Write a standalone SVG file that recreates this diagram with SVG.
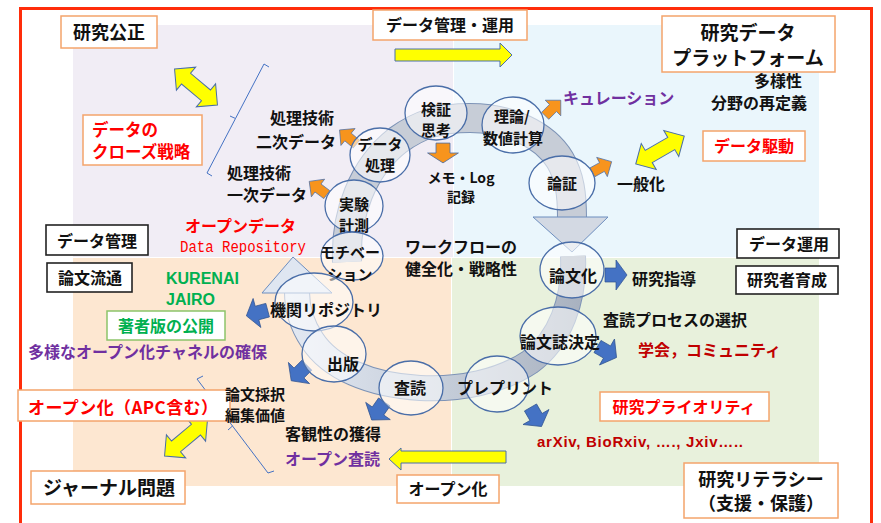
<svg xmlns="http://www.w3.org/2000/svg" width="881" height="523" viewBox="0 0 881 523">
<defs>
<style>
.t{font-family:"Noto Sans CJK JP","Noto Sans",sans-serif;font-weight:bold;fill:#111}
.c{text-anchor:middle}
.red{fill:#ff0000}
.dred{fill:#c00000}
.pur{fill:#7030a0}
.grn{fill:#00b050}
.box{fill:#fff;stroke:#f4a46b;stroke-width:1.5}
.kbox{fill:#fff;stroke:#222;stroke-width:1.6}
.gbox{fill:#fff;stroke:#8cc46a;stroke-width:1.5}
.el{fill:#fff;fill-opacity:0.55;stroke:#4a6ea8;stroke-width:1.3}
.ya{fill:#ffff00;stroke:#4a6ea8;stroke-width:1}
.oa{fill:#f7941d;stroke:#4a6ea8;stroke-width:0.7}
.ba{fill:#4472c4;stroke:#2f528f;stroke-width:0.7}
.br{fill:none;stroke:#4472c4;stroke-width:1}
</style>
<path id="dbl" d="M-28,0 L-13,-15 L-13,-7 L13,-7 L13,-15 L28,0 L13,15 L13,7 L-13,7 L-13,15 Z"/>
<path id="oarr" d="M-11,-5 L0,-5 L0,-11 L11,0 L0,11 L0,5 L-11,5 Z"/>
<path id="barr" d="M-11,-7 L0,-7 L0,-15 L11,0 L0,15 L0,7 L-11,7 Z"/>
<linearGradient id="gB" gradientUnits="userSpaceOnUse" x1="580" y1="0" x2="290" y2="0">
<stop offset="0" stop-color="#a9b2c0"/><stop offset="0.45" stop-color="#c4ccd8"/><stop offset="1" stop-color="#e2e8f2"/>
</linearGradient>
</defs>

<!-- backgrounds -->
<g id="background">
<rect x="0" y="0" width="881" height="523" fill="#fff"/>
<rect x="73" y="25" width="380" height="232" fill="#f1edf5"/>
<rect x="454" y="25" width="365" height="232" fill="#eaf6fc"/>
<rect x="73" y="258" width="378" height="228" fill="#fde7d1"/>
<rect x="452" y="258" width="367" height="228" fill="#e8f1dc"/>
<rect x="20.5" y="8.5" width="851" height="530" fill="none" stroke="#ff2d0a" stroke-width="3"/>
</g>

<!-- connectors: spiral bands and arrows -->
<g id="connectors">
<g id="bandA">
<path d="M347,262 C345,215 362,168 398,140 C420,124 440,118 470,118 C510,118 545,135 560,160 C570,177 572,195 572,218" fill="none" stroke="#7d93b6" stroke-width="30"/>
<path d="M347,262 C345,215 362,168 398,140 C420,124 440,118 470,118 C510,118 545,135 560,160 C570,177 572,195 572,218" fill="none" stroke="#c7cdd7" stroke-width="28"/>
<polygon points="533,217 608,217 572,252" fill="#d3d9e3" stroke="#6d8ebf" stroke-width="1"/>
</g>
<g id="bandB">
<path d="M573,256 C575,300 560,340 530,362 C500,382 460,390 420,388 C370,385 330,368 312,340 C302,325 297,310 297,292" fill="none" stroke="#7d93b6" stroke-width="26"/>
<path d="M573,256 C575,300 560,340 530,362 C500,382 460,390 420,388 C370,385 330,368 312,340 C302,325 297,310 297,292" fill="none" stroke="url(#gB)" stroke-width="24"/>
<polygon points="262,293 332,293 293,257" fill="#dfe6f1" stroke="#6d8ebf" stroke-width="1"/>
</g>

<!-- orange arrows -->
<use href="#oarr" class="oa" transform="translate(348,137) rotate(-140)"/>
<use href="#oarr" class="oa" transform="translate(318,188) rotate(-143)"/>
<use href="#oarr" class="oa" transform="translate(443,153) rotate(90) scale(0.9,1.4)"/>
<use href="#oarr" class="oa" transform="translate(553,108) rotate(-45)"/>
<use href="#oarr" class="oa" transform="translate(602,167) rotate(-29)"/>

<!-- blue arrows -->
<use href="#barr" class="ba" transform="translate(616,275)"/>
<use href="#barr" class="ba" transform="translate(607,352) rotate(30)"/>
<use href="#barr" class="ba" transform="translate(536,417) rotate(60)"/>
<use href="#barr" class="ba" transform="translate(378,411) rotate(125)"/>
<use href="#barr" class="ba" transform="translate(299,373) rotate(135)"/>
<use href="#barr" class="ba" transform="translate(257,313) rotate(165)"/>

<!-- yellow arrows -->
<path d="M395,49 H500 V43 L512,55 L500,67 V61 H395 Z" class="ya"/>
<path d="M506,451 H401 V448 L389,459 L401,470 V463 H506 Z" class="ya"/>
<use href="#dbl" class="ya" transform="translate(196,87) rotate(40)"/>
<use href="#dbl" class="ya" transform="translate(186,438) rotate(-40)"/>
<use href="#dbl" class="ya" transform="translate(660,150) rotate(-30)"/>

<!-- brackets -->
<path class="br" d="M269,67 L264,64 L235.5,118.5 L230,116 M235.5,118.5 L207,173 L212,176"/>
<path class="br" d="M203,376 L197,379 L232.5,426 L228,430 M232.5,426 L268,473 L274,471"/>
</g>

<!-- spiral nodes -->
<g id="n-kensho"><ellipse class="el" cx="436" cy="113" rx="31" ry="27"/>
<text class="t c" font-size="15" x="436" y="115">検証</text><text class="t c" font-size="15" x="436" y="136">思考</text></g>
<g id="n-riron"><ellipse class="el" cx="513" cy="125" rx="31" ry="28"/>
<text class="t c" font-size="15" x="512" y="122">理論/</text><text class="t c" font-size="15" x="513" y="144">数値計算</text></g>
<g id="n-data"><ellipse class="el" cx="380" cy="155" rx="30" ry="27"/>
<text class="t c" font-size="15" x="380" y="150">データ</text><text class="t c" font-size="15" x="380" y="171">処理</text></g>
<g id="n-ronsho"><ellipse class="el" cx="562" cy="183" rx="33" ry="27"/>
<text class="t c" font-size="15" x="562" y="189">論証</text></g>
<g id="n-jikken"><ellipse class="el" cx="354" cy="206" rx="29" ry="26"/>
<text class="t c" font-size="15" x="354" y="210">実験</text><text class="t c" font-size="15" x="354" y="231">計測</text></g>
<g id="n-motiv"><ellipse class="el" cx="352" cy="256" rx="31" ry="24"/>
<text class="t c" font-size="15" x="350" y="258">モチベー</text><text class="t c" font-size="15" x="350" y="280">ション</text></g>
<g id="n-ronbunka"><ellipse class="el" cx="572" cy="270" rx="32" ry="28"/>
<text class="t c" font-size="16" x="573" y="282">論文化</text></g>
<g id="n-ronbunshi"><ellipse class="el" cx="558" cy="336" rx="38" ry="29"/>
<text class="t c" font-size="16" x="560" y="348">論文誌決定</text></g>
<g id="n-kikan"><ellipse class="el" cx="314" cy="302" rx="39" ry="29"/>
<text class="t c" font-size="16" x="326" y="316">機関リポジトリ</text></g>
<g id="n-shuppan"><ellipse class="el" cx="334" cy="354" rx="32" ry="28"/>
<text class="t c" font-size="16" x="343" y="370">出版</text></g>
<g id="n-sadoku"><ellipse class="el" cx="411" cy="388" rx="32" ry="27"/>
<text class="t c" font-size="16" x="410" y="394">査読</text></g>
<g id="n-preprint"><ellipse class="el" cx="497" cy="384" rx="32" ry="28"/>
<text class="t c" font-size="16" x="505" y="394">プレプリント</text></g>

<!-- boxed labels -->
<g id="b-kosei"><rect class="box" x="61" y="16" width="96" height="32"/><text class="t c" font-size="18" x="109" y="39">研究公正</text></g>
<g id="b-kanri-unyo"><rect class="box" x="373" y="10" width="154" height="30"/><text class="t c" font-size="16" x="450" y="31">データ管理・運用</text></g>
<g id="b-platform"><rect class="box" x="662" y="16" width="173" height="56"/><text class="t c" font-size="19" x="748" y="40">研究データ</text><text class="t c" font-size="19" x="748" y="65">プラットフォーム</text></g>
<g id="b-kudo"><rect class="box" x="703" y="131" width="102" height="30"/><text class="t c red" font-size="16" x="754" y="152">データ駆動</text></g>
<g id="b-close"><rect class="box" x="83" y="115" width="119" height="50"/><text class="t red" font-size="16.5" x="92" y="136">データの</text><text class="t red" font-size="16.5" x="92" y="158">クローズ戦略</text></g>
<g id="b-datakanri"><rect class="kbox" x="46" y="225" width="102" height="30"/><text class="t c" font-size="16" x="97" y="247">データ管理</text></g>
<g id="b-ronbunryutsu"><rect class="kbox" x="47" y="263" width="85" height="29"/><text class="t c" font-size="16" x="90" y="284">論文流通</text></g>
<g id="b-dataunyo"><rect class="kbox" x="737" y="229" width="102" height="29"/><text class="t c" font-size="16" x="789" y="250">データ運用</text></g>
<g id="b-ikusei"><rect class="kbox" x="736" y="266" width="102" height="28"/><text class="t c" font-size="16" x="787" y="286">研究者育成</text></g>
<g id="b-chosha"><rect class="gbox" x="107" y="311" width="118" height="29"/><text class="t c grn" font-size="16" x="166" y="332">著者版の公開</text></g>
<g id="b-apc"><rect class="box" x="18" y="390" width="212" height="31"/><text class="t red" font-size="17" x="28" y="414" textLength="190">オープン化（APC含む）</text></g>
<g id="b-journal"><rect class="box" x="31" y="471" width="154" height="33"/><text class="t c" font-size="19" x="109" y="495">ジャーナル問題</text></g>
<g id="b-openka"><rect class="box" x="397" y="475" width="102" height="28"/><text class="t c" font-size="16" x="448" y="495">オープン化</text></g>
<g id="b-literacy"><rect class="box" x="684" y="463" width="154" height="55"/><text class="t c" font-size="18" x="761" y="486">研究リテラシー</text><text class="t c" font-size="18" x="761" y="510">（支援・保護）</text></g>
<g id="b-priority"><rect class="box" x="600" y="392" width="169" height="29"/><text class="t c red" font-size="16" x="684" y="413">研究プライオリティ</text></g>

<!-- free labels -->
<g id="labels">
<text class="t" font-size="16" x="802" y="87" text-anchor="end">多様性</text>
<text class="t" font-size="16" x="807" y="109" text-anchor="end">分野の再定義</text>
<text class="t pur" font-size="16" x="563" y="104">キュレーション</text>
<text class="t" font-size="16" x="334" y="124" text-anchor="end">処理技術</text>
<text class="t" font-size="16" x="336" y="148" text-anchor="end">二次データ</text>
<text class="t" font-size="16" x="227" y="179">処理技術</text>
<text class="t" font-size="16" x="227" y="201">一次データ</text>
<text class="t" font-size="14" x="461" y="183" text-anchor="middle">メモ・Log</text>
<text class="t" font-size="14" x="461" y="202" text-anchor="middle">記録</text>
<text class="t" font-size="16" x="617" y="190">一般化</text>
<text class="t red" font-size="16" x="185" y="232">オープンデータ</text>
<text x="180" y="252" font-family="Liberation Mono,monospace" font-size="16" fill="#ff0000" textLength="126" lengthAdjust="spacingAndGlyphs">Data Repository</text>
<text class="t" font-size="16" x="405" y="253">ワークフローの</text>
<text class="t" font-size="16" x="405" y="275">健全化・戦略性</text>
<text x="166" y="284" font-family="Liberation Sans,Arial,sans-serif" font-weight="bold" font-size="16" fill="#00b050">KURENAI</text>
<text x="166" y="305" font-family="Liberation Sans,Arial,sans-serif" font-weight="bold" font-size="16" fill="#00b050">JAIRO</text>
<text class="t" font-size="16" x="632" y="285">研究指導</text>
<text class="t" font-size="16" x="603" y="326">査読プロセスの選択</text>
<text class="t dred" font-size="16" x="638" y="356">学会，コミュニティ</text>
<text class="t pur" font-size="16" x="28" y="358">多様なオープン化チャネルの確保</text>
<text class="t" font-size="15" x="225" y="400">論文採択</text>
<text class="t" font-size="15" x="225" y="421">編集価値</text>
<text class="t" font-size="16" x="285" y="440">客観性の獲得</text>
<text class="t pur" font-size="16" x="285" y="465">オープン査読</text>
<text x="537" y="447" font-family="Liberation Sans,Arial,sans-serif" font-weight="bold" font-size="15" fill="#c00000" textLength="206">arXiv, BioRxiv, …., Jxiv…..</text>
</g>
</svg>
